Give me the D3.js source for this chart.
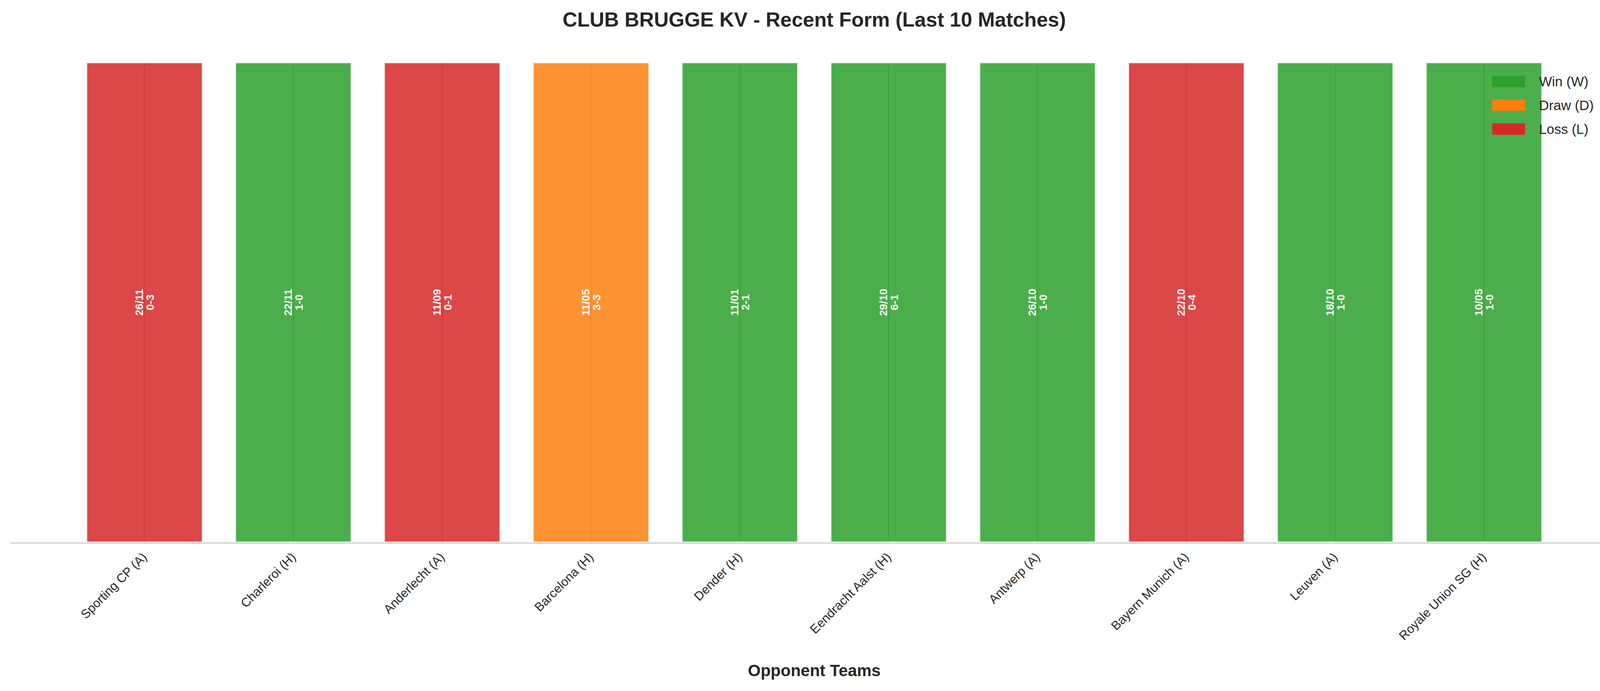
<!DOCTYPE html>
<html>
<head>
<meta charset="utf-8">
<script src="https://cdn.jsdelivr.net/npm/d3@7"></script>
<style>
  body { margin: 0; background: #fff; }
  text { font-family: "Liberation Sans", Arial, sans-serif; }
</style>
</head>
<body>
<svg id="chart" width="4170" height="1770"></svg>
<script>
var opponents = ['Sporting CP (A)', 'Charleroi (H)', 'Anderlecht (A)', 'Barcelona (H)', 'Dender (H)',
  'Eendracht Aalst (H)', 'Antwerp (A)', 'Bayern Munich (A)', 'Leuven (A)', 'Royale Union SG (H)'];
var results = ['L', 'W', 'L', 'D', 'W', 'W', 'W', 'L', 'W', 'W'];
var dates = ['26/11', '22/11', '11/09', '11/05', '11/01', '29/10', '26/10', '22/10', '18/10', '10/05'];
var scores = ['0-3', '1-0', '0-1', '3-3', '2-1', '6-1', '1-0', '0-4', '1-0', '1-0'];
var legendKeys = ['W', 'D', 'L'];
var legendLabels = ['Win (W)', 'Draw (D)', 'Loss (L)'];

var COLORS = { W: '#2ca02c', D: '#ff7f0e', L: '#d62728' };
var LEFT = 27, RIGHT = 4142, TOP = 160, BOTTOM = 1389;
var BAR_W = 0.78;

var svg = d3.select('#chart');

var x = d3.scaleLinear().domain([-0.9, opponents.length - 0.1]).range([LEFT, RIGHT]);
var y = d3.scaleLinear().domain([0, 1]).range([BOTTOM, TOP]);
var step = x(1) - x(0);

// title
svg.append('text')
  .attr('x', (LEFT + RIGHT) / 2).attr('y', 68)
  .attr('text-anchor', 'middle')
  .style('font-size', '52px').style('font-weight', 'bold').style('fill', '#262626')
  .text('CLUB BRUGGE KV - Recent Form (Last 10 Matches)');

// vertical grid at ticks
svg.append('g').selectAll('line')
  .data(opponents)
  .enter().append('line')
  .attr('x1', (d, i) => x(i)).attr('x2', (d, i) => x(i))
  .attr('y1', TOP).attr('y2', BOTTOM)
  .style('stroke', '#bbb').style('stroke-width', 3);

// bars
svg.append('g').selectAll('rect')
  .data(results)
  .enter().append('rect')
  .attr('x', (d, i) => x(i) - BAR_W * step / 2)
  .attr('width', BAR_W * step)
  .attr('y', y(1))
  .attr('height', y(0) - y(1))
  .style('fill', d => COLORS[d])
  .style('fill-opacity', 0.85)
  .style('stroke', '#fff')
  .style('stroke-opacity', 0.85)
  .style('stroke-width', 4);

// labels inside bars
var lab = svg.append('g').selectAll('text')
  .data(results)
  .enter().append('text')
  .attr('transform', (d, i) => `translate(${x(i)},${y(0.5)})rotate(-90)`)
  .attr('text-anchor', 'middle')
  .style('font-size', '28px').style('font-weight', 'bold').style('fill', '#fff');
lab.append('tspan').attr('x', 0).attr('dy', '-0.15em').text((d, i) => dates[i]);
lab.append('tspan').attr('x', 0).attr('dy', '1.0em').text((d, i) => scores[i]);

// x axis line
svg.append('line')
  .attr('x1', LEFT).attr('x2', RIGHT).attr('y1', BOTTOM + 2).attr('y2', BOTTOM + 2)
  .style('stroke', '#ccc').style('stroke-width', 3);

// tick labels
svg.append('g').selectAll('text')
  .data(opponents)
  .enter().append('text')
  .attr('transform', (d, i) => `translate(${x(i) + 8},${BOTTOM + 40})rotate(-45)`)
  .attr('text-anchor', 'end')
  .style('font-size', '32px').style('fill', '#262626')
  .text(d => d);

// x label
svg.append('text')
  .attr('x', (LEFT + RIGHT) / 2).attr('y', 1732)
  .attr('text-anchor', 'middle')
  .style('font-size', '42px').style('font-weight', 'bold').style('fill', '#262626')
  .text('Opponent Teams');

// legend
var leg = svg.append('g').selectAll('g')
  .data(legendKeys)
  .enter().append('g')
  .attr('transform', (d, i) => `translate(3820,${194 + i * 61})`);
leg.append('rect').attr('width', 84).attr('height', 29).style('fill', d => COLORS[d]);
leg.append('text').attr('x', 120).attr('y', 27)
  .style('font-size', '35px').style('fill', '#262626')
  .text((d, i) => legendLabels[i]);
</script>
</body>
</html>
